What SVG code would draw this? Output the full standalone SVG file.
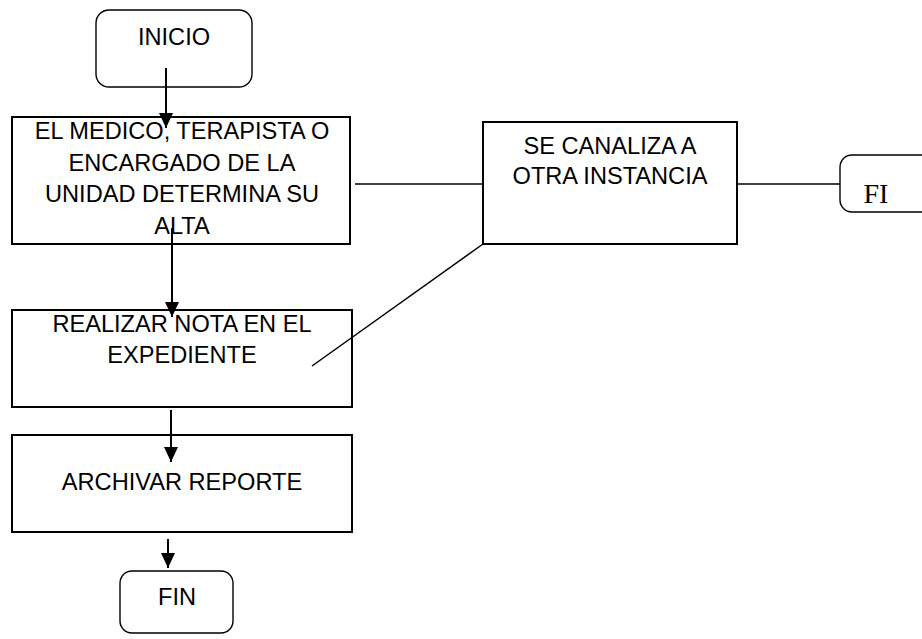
<svg xmlns="http://www.w3.org/2000/svg" width="922" height="639" viewBox="0 0 922 639">
<defs>
<style>
.box{fill:#fff;stroke:#000;stroke-width:2}
.rbox{fill:#fff;stroke:#000;stroke-width:1.4}
.t{font-family:"Liberation Sans",Arial,sans-serif;font-size:23.6px;fill:#000;text-anchor:middle}
.ts{font-family:"Liberation Serif","Times New Roman",serif;font-size:28px;fill:#000;text-anchor:middle}
.arr{stroke:#000;stroke-width:2;fill:none;marker-end:url(#ah)}
.ln{stroke:#000;stroke-width:1.5;fill:none}
</style>
<marker id="ah" markerUnits="userSpaceOnUse" markerWidth="16" markerHeight="16" refX="15" refY="7" orient="auto" viewBox="0 0 16 14">
<path d="M0,0 L15,7 L0,14 Z" fill="#000"/>
</marker>
</defs>
<rect width="922" height="639" fill="#fff"/>
<g id="inicio">
<rect class="rbox" x="96" y="10" width="156" height="77" rx="13"/>
<text class="t" x="174" y="45">INICIO</text>
</g>
<g id="medico">
<rect class="box" x="12" y="117" width="338" height="127"/>
<text class="t" x="182" y="139">EL MEDICO, TERAPISTA O</text>
<text class="t" x="182" y="171">ENCARGADO DE LA</text>
<text class="t" x="182" y="202">UNIDAD DETERMINA SU</text>
<text class="t" x="182" y="234">ALTA</text>
</g>
<g id="canaliza">
<rect class="box" x="483" y="122" width="254" height="122"/>
<text class="t" x="610" y="154">SE CANALIZA A</text>
<text class="t" x="610" y="184">OTRA INSTANCIA</text>
</g>
<g id="fi">
<rect class="rbox" x="840" y="155" width="100" height="57" rx="12"/>
<text class="ts" x="876" y="203">FI</text>
</g>
<g id="realizar">
<rect class="box" x="12" y="310" width="340" height="97"/>
<text class="t" x="182" y="332">REALIZAR NOTA EN EL</text>
<text class="t" x="182" y="363">EXPEDIENTE</text>
</g>
<g id="archivar">
<rect class="box" x="12" y="435" width="340" height="97"/>
<text class="t" x="182" y="490">ARCHIVAR REPORTE</text>
</g>
<g id="fin">
<rect class="rbox" x="120" y="571" width="113" height="62" rx="12"/>
<text class="t" x="177" y="605">FIN</text>
</g>
<g id="connectors">
<line class="arr" x1="166" y1="68" x2="166" y2="128"/>
<line class="arr" x1="172" y1="228" x2="172" y2="317"/>
<line class="arr" x1="171" y1="410" x2="171" y2="462"/>
<line class="arr" x1="168" y1="539" x2="168" y2="568"/>
<line class="ln" x1="355" y1="184" x2="483" y2="184"/>
<line class="ln" x1="737" y1="184" x2="840" y2="184"/>
<line class="ln" x1="483" y1="244" x2="312" y2="366"/>
</g>
</svg>
